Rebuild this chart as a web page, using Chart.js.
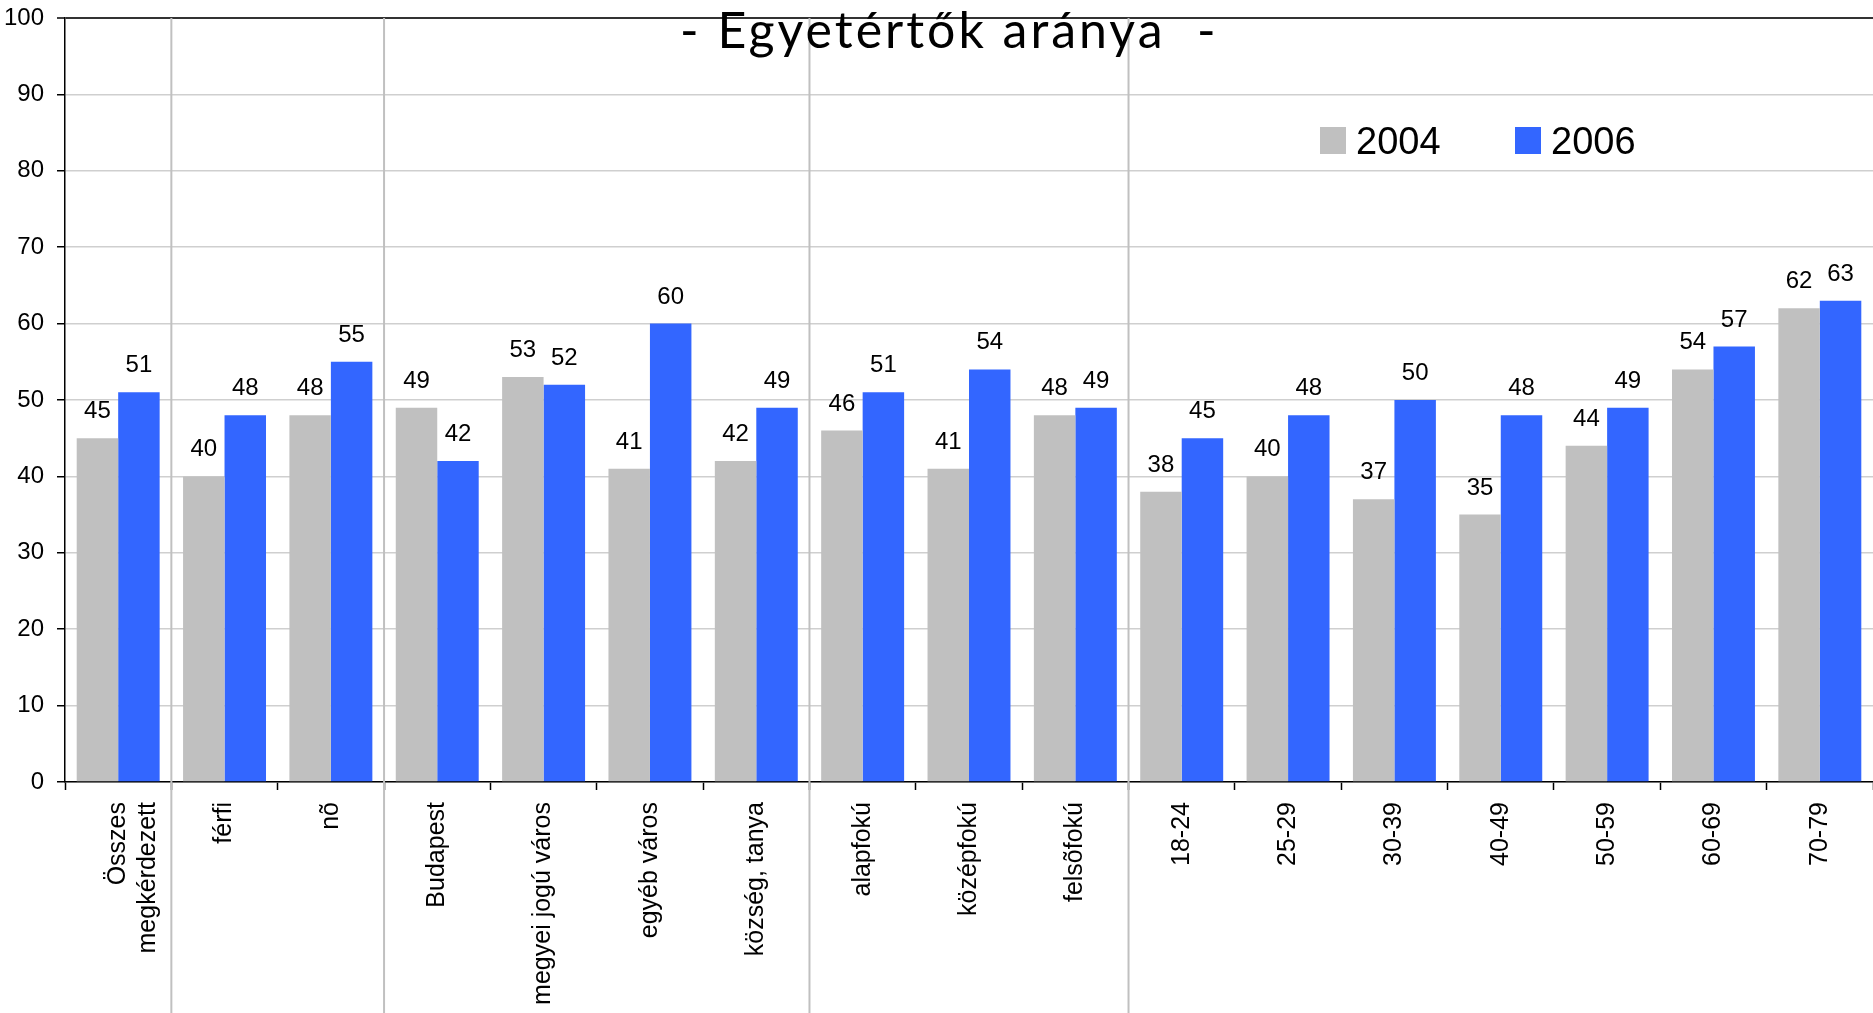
<!DOCTYPE html>
<html lang="hu">
<head>
<meta charset="utf-8">
<title>Egyetértők aránya</title>
<script src="https://cdn.jsdelivr.net/npm/chart.js@4/dist/chart.umd.min.js"></script>
<style>
    html, body { margin: 0; padding: 0; background: #fff; }
    #chart { display: block; }
</style>
</head>
<body>
<canvas id="chart" width="1873" height="1013"></canvas>
<script>
// Categories: overall, sex, settlement type, education, age groups
const categories = [
    ["Összes", "megkérdezett"],
    "férfi", "nõ",
    "Budapest", "megyei jogú város", "egyéb város", "község, tanya",
    "alapfokú", "középfokú", "felsõfokú",
    "18-24", "25-29", "30-39", "40-49", "50-59", "60-69", "70-79",
];
const values2004 = [45, 40, 48, 49, 53, 41, 42, 46, 41, 48, 38, 40, 37, 35, 44, 54, 62];
const values2006 = [51, 48, 55, 42, 52, 60, 49, 51, 54, 49, 45, 48, 50, 48, 49, 57, 63];
// Index of the last category in each group; a divider is drawn after it
const groupEnds = [0, 2, 6, 9];
const yTicks = { min: 0, max: 100, step: 10 };
const titleText = "- Egyetértők aránya  -";

const FONT = "'Liberation Sans', Arial, sans-serif";

/**
 * Draws the vertical group dividers, from the top of the plot down to the
 * bottom of the canvas, through the label area.
 */
const groupDividers = {
    id: "groupDividers",
    afterDatasetsDraw(chart) {
        const { ctx, chartArea, scales } = chart;
        const x = scales.x;
        ctx.save();
        ctx.strokeStyle = "#c0c0c0";
        ctx.lineWidth = 2;
        groupEnds.forEach((i) => {
            const px = (x.getPixelForValue(i) + x.getPixelForValue(i + 1)) / 2;
            ctx.beginPath();
            ctx.moveTo(px, chartArea.top);
            ctx.lineTo(px, chart.height);
            ctx.stroke();
        });
        ctx.restore();
    },
};

/**
 * Writes the value above every bar.
 */
const barValues = {
    id: "barValues",
    afterDatasetsDraw(chart) {
        const { ctx } = chart;
        ctx.save();
        ctx.font = `24px ${FONT}`;
        ctx.fillStyle = "#000";
        ctx.textAlign = "center";
        ctx.textBaseline = "alphabetic";
        chart.data.datasets.forEach((ds, di) => {
            chart.getDatasetMeta(di).data.forEach((bar, i) => {
                ctx.fillText(String(ds.data[i]), bar.x, bar.y - 20);
            });
        });
        ctx.restore();
    },
};

/**
 * Title and legend sit inside the plot, over the top border.
 */
const headerAndLegend = {
    id: "headerAndLegend",
    afterDraw(chart) {
        const { ctx } = chart;
        ctx.save();
        ctx.fillStyle = "#000";
        ctx.textAlign = "left";
        ctx.textBaseline = "alphabetic";
        ctx.font = `50px Lato, 'Open Sans', sans-serif`;
        ctx.letterSpacing = "3px";
        ctx.fillText(titleText, 680, 48);
        ctx.letterSpacing = "0px";

        // legend
        const items = chart.data.datasets;
        const startX = [1320, 1515];
        ctx.font = `38px ${FONT}`;
        items.forEach((ds, i) => {
            ctx.fillStyle = ds.backgroundColor;
            ctx.fillRect(startX[i], 127, 26, 27);
            ctx.fillStyle = "#000";
            ctx.fillText(ds.label, startX[i] + 36, 154);
        });
        ctx.restore();
    },
};

new Chart(document.getElementById("chart"), {
    type: "bar",
    data: {
        labels: categories,
        datasets: [
            {
                label: "2004",
                data: values2004,
                backgroundColor: "#c0c0c0",
            },
            {
                label: "2006",
                data: values2006,
                backgroundColor: "#3366ff",
            },
        ],
    },
    options: {
        responsive: false,
        animation: false,
        layout: {
            padding: { top: 18, left: 0, right: 0, bottom: 0 },
        },
        datasets: {
            bar: {
                categoryPercentage: 0.78,
                barPercentage: 1,
            },
        },
        plugins: {
            legend: { display: false },
            title: { display: false },
            tooltip: { enabled: false },
        },
        scales: {
            x: {
                offset: true,
                afterFit(scale) {
                    scale.height = 231;
                    scale.paddingLeft = 0;
                    scale.paddingRight = 0;
                },
                border: { color: "#000", width: 1.5 },
                grid: {
                    offset: true,
                    drawOnChartArea: false,
                    drawTicks: true,
                    tickLength: 8,
                    tickColor: "#000",
                    tickWidth: 1.5,
                },
                ticks: {
                    autoSkip: false,
                    minRotation: 90,
                    maxRotation: 90,
                    padding: 12,
                    color: "#000",
                    font: { family: FONT, size: 25 },
                },
            },
            y: {
                min: yTicks.min,
                max: yTicks.max,
                afterFit(scale) {
                    scale.width = 65;
                    scale.paddingTop = 0;
                    scale.paddingBottom = 0;
                },
                border: { color: "#000", width: 1.5 },
                grid: {
                    color: (c) => (c.tick && c.tick.value === yTicks.max ? "#333" : "#cfcfcf"),
                    lineWidth: (c) => (c.tick && c.tick.value === yTicks.max ? 2 : 1.5),
                    tickLength: 8,
                    tickColor: "#000",
                    tickWidth: 1.5,
                },
                ticks: {
                    stepSize: yTicks.step,
                    padding: 13,
                    color: "#000",
                    font: { family: FONT, size: 24 },
                },
            },
        },
    },
    plugins: [groupDividers, barValues, headerAndLegend],
});
</script>
</body>
</html>
